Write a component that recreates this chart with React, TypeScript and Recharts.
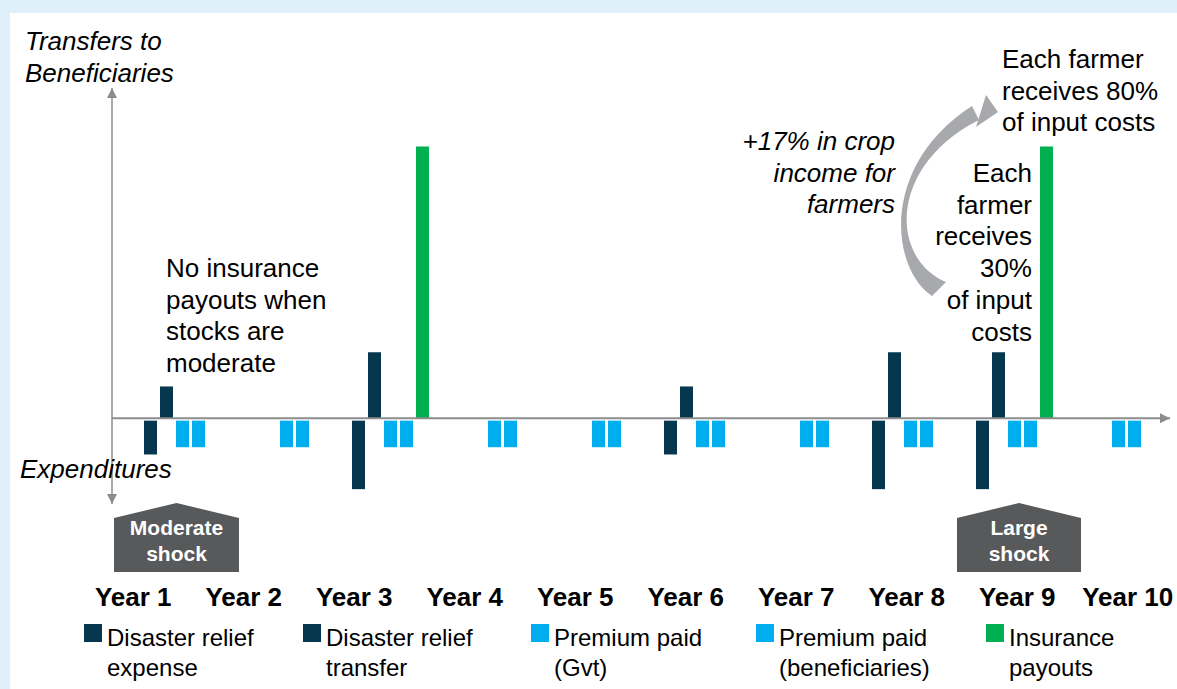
import React from 'react';
import { BarChart, Bar, XAxis, YAxis, ReferenceLine, Legend } from 'recharts';

// categories and values (units, baseline = 0)
const years = ['Year 1', 'Year 2', 'Year 3', 'Year 4', 'Year 5', 'Year 6', 'Year 7', 'Year 8', 'Year 9', 'Year 10'];
const reliefExpense = [-1.1, 0, -2.15, 0, 0, -1.1, 0, -2.15, -2.15, 0];
const reliefTransfer = [0.96, 0, 2, 0, 0, 0.96, 0, 2, 2, 0];
const premiumGvt = [-0.88, -0.88, -0.88, -0.88, -0.88, -0.88, -0.88, -0.88, -0.88, -0.88];
const premiumBenef = [-0.88, -0.88, -0.88, -0.88, -0.88, -0.88, -0.88, -0.88, -0.88, -0.88];
const payouts = [0, 0, 8.23, 0, 0, 0, 0, 0, 8.23, 0];

const DARK = '#07374f';
const LIGHT = '#00aeef';
const GREEN = '#00b050';
const AXIS = '#8c8c8c';
const ARROW = '#a7a9ac';
const FONT = '"Liberation Sans", Arial, sans-serif';

const series = [
    { key: 'expense', name: 'Disaster relief expense', lines: ['Disaster relief', 'expense'], color: DARK, negative: true },
    { key: 'transfer', name: 'Disaster relief transfer', lines: ['Disaster relief', 'transfer'], color: DARK, negative: false },
    { key: 'gvt', name: 'Premium paid (Gvt)', lines: ['Premium paid', '(Gvt)'], color: LIGHT, negative: true },
    { key: 'benef', name: 'Premium paid (beneficiaries)', lines: ['Premium paid', '(beneficiaries)'], color: LIGHT, negative: true },
    { key: 'payout', name: 'Insurance payouts', lines: ['Insurance', 'payouts'], color: GREEN, negative: false },
];

const data = years.map((year, i) => ({
    year,
    expense: reliefExpense[i],
    transfer: reliefTransfer[i],
    gvt: premiumGvt[i],
    benef: premiumBenef[i],
    payout: payouts[i],
}));

// negative bars sit a little below the axis line
function GapBar(props: any) {
    const { x, y, width, height, fill } = props;
    const top = Math.min(y, y + height);
    const h = Math.abs(height);
    const gap = 2.5;
    if (!h || h <= gap) return null;
    return <rect x={x} y={top + gap} width={width} height={h - gap} fill={fill} />;
}

// year labels are spread a bit wider than the bar groups in the original
function YearTick(props: any) {
    const { x, y, payload, index } = props;
    return (
        <text x={x - 48.75 + 6.5 * index} y={y + 93.5} textAnchor="middle" fontFamily={FONT} fontSize={26} fontWeight="bold" fill="#000">
            {payload.value}
        </text>
    );
}

const legendWidths = [219, 228, 225, 230, 180];

function renderLegend() {
    return (
        <div style={{ display: 'flex', fontFamily: FONT, fontSize: 24, lineHeight: '30px', color: '#000' }}>
            {series.map((s, i) => (
                <div key={s.key} style={{ display: 'flex', alignItems: 'flex-start', width: legendWidths[i] }}>
                    <div style={{ width: 18, height: 18, background: s.color, marginTop: 1, marginRight: 5, flexShrink: 0 }} />
                    <div>{s.lines.map((l, j) => <div key={j}>{l}</div>)}</div>
                </div>
            ))}
        </div>
    );
}

function ShockBox(props: { left: number; width: number; label: string[] }) {
    const { left, width, label } = props;
    const mid = left + width / 2;
    const pts = `${left},518 ${mid},503 ${left + width},518 ${left + width},572 ${left},572`;
    return (
        <g>
            <polygon points={pts} fill="#58595b" />
            {label.map((l, i) => (
                <text key={i} x={mid} y={535 + i * 26} textAnchor="middle" fill="#fff" fontSize={21} fontWeight="bold" fontFamily={FONT}>{l}</text>
            ))}
        </g>
    );
}

function Lines(props: { x: number; y: number; step: number; lines: string[]; anchor?: string; italic?: boolean }) {
    const { x, y, step, lines, anchor, italic } = props;
    return (
        <text fontFamily={FONT} fontSize={26} fontStyle={italic ? 'italic' : 'normal'} textAnchor={anchor || 'start'} fill="#000">
            {lines.map((l, i) => <tspan key={i} x={x} y={y + i * step}>{l}</tspan>)}
        </text>
    );
}

export default function App() {
    return (
        <div style={{ position: 'absolute', left: 0, top: 0, width: 1177, height: 689, background: '#dff0fa', overflow: 'hidden' }}>
            <div style={{ position: 'absolute', left: 10, top: 13, right: 0, bottom: 0, background: '#fff' }} />
            <svg width={0} height={0} style={{ position: 'absolute' }}>
                <defs>
                    <marker id="axisArrow" viewBox="0 0 10 10" refX="10" refY="5" markerWidth="10" markerHeight="11"
                        markerUnits="userSpaceOnUse" orient="auto-start-reverse">
                        <path d="M0,0 L10,5 L0,10 z" fill={AXIS} />
                    </marker>
                </defs>
            </svg>
            <div style={{ position: 'absolute', left: 0, top: 0 }}>
                <BarChart width={1177} height={689} data={data} barSize={13} barGap={3}
                    margin={{ top: 88, right: 7, left: 111, bottom: 85 }}>
                    <XAxis dataKey="year" height={100} axisLine={false} tickLine={false}
                        padding={{ left: 18, right: 0 }} tick={<YearTick />} interval={0} />
                    <YAxis width={1} type="number" domain={[-2.6, 10]} allowDataOverflow tick={false} tickLine={false}
                        axisLine={{ stroke: AXIS, strokeWidth: 1.5, markerStart: 'url(#axisArrow)', markerEnd: 'url(#axisArrow)' }} />
                    {series.map(s => (
                        s.negative
                            ? <Bar key={s.key} dataKey={s.key} name={s.name} fill={s.color} isAnimationActive={false} shape={<GapBar />} />
                            : <Bar key={s.key} dataKey={s.key} name={s.name} fill={s.color} isAnimationActive={false} />
                    ))}
                    <ReferenceLine y={0} stroke={AXIS} strokeWidth={2} markerEnd="url(#axisArrow)" />
                    <Legend layout="horizontal" verticalAlign="middle" align="center" content={renderLegend}
                        wrapperStyle={{ position: 'absolute', left: 84, top: 623, width: 1090, height: 66 }} />
                </BarChart>
            </div>
            <svg width={1177} height={689} style={{ position: 'absolute', left: 0, top: 0, pointerEvents: 'none' }}>
                <Lines x={25} y={50} step={31.5} lines={['Transfers to', 'Beneficiaries']} italic />
                <Lines x={20} y={478} step={31.5} lines={['Expenditures']} italic />
                <Lines x={166} y={277} step={31.5} lines={['No insurance', 'payouts when', 'stocks are', 'moderate']} />
                <Lines x={895} y={150} step={31.5} lines={['+17% in crop', 'income for', 'farmers']} anchor="end" italic />
                <Lines x={1002} y={68} step={31.7} lines={['Each farmer', 'receives 80%', 'of input costs']} />
                <Lines x={1032} y={182} step={31.7} lines={['Each', 'farmer', 'receives', '30%', 'of input', 'costs']} anchor="end" />
                <path d="M 932 296 C 890 268, 880 165, 972 106 L 979 120 C 889 165, 889 258, 946 282 Z" fill={ARROW} />
                <polygon points="998,112 986,95 976,127" fill={ARROW} />
                <ShockBox left={114} width={125} label={['Moderate', 'shock']} />
                <ShockBox left={957} width={124} label={['Large', 'shock']} />
            </svg>
        </div>
    );
}
